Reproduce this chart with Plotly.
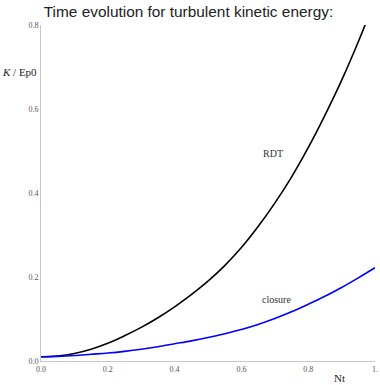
import plotly.graph_objects as go

# Time grid (Nt) and kinetic energy normalised by initial potential energy
nt = [0.0, 0.05, 0.1, 0.15, 0.2, 0.25, 0.3, 0.35, 0.4, 0.45, 0.5,
      0.55, 0.6, 0.65, 0.7, 0.75, 0.8, 0.85, 0.9, 0.95, 1.0]
k_rdt = [0.010, 0.012, 0.018, 0.028, 0.042, 0.060, 0.080, 0.103, 0.129, 0.158, 0.190,
         0.227, 0.270, 0.320, 0.376, 0.438, 0.508, 0.585, 0.668, 0.760, 0.860]
k_closure = [0.010, 0.011, 0.013, 0.016, 0.019, 0.023, 0.028, 0.034, 0.041, 0.048, 0.056,
             0.065, 0.075, 0.087, 0.101, 0.117, 0.135, 0.154, 0.175, 0.198, 0.222]

x_ticks = [0.0, 0.2, 0.4, 0.6, 0.8, 1.0]
x_tick_text = ["0.0", "0.2", "0.4", "0.6", "0.8", "1."]
y_ticks = [0.0, 0.2, 0.4, 0.6, 0.8]
y_tick_text = ["0.0", "0.2", "0.4", "0.6", "0.8"]

serif = "Liberation Serif, DejaVu Serif, serif"

fig = go.Figure()
fig.add_trace(go.Scatter(x=nt, y=k_rdt, mode="lines", line=dict(color="black", width=1.6, shape="spline"),
                         name="RDT", showlegend=False))
fig.add_trace(go.Scatter(x=nt, y=k_closure, mode="lines", line=dict(color="#0000ff", width=1.6, shape="spline"),
                         name="closure", showlegend=False))

axis_common = dict(showgrid=False, zeroline=False, showline=True, linecolor="#c8c8c8", linewidth=1,
                   ticks="", ticklabeloverflow="allow",
                   tickfont=dict(family=serif, size=8, color="#555555"))

fig.update_layout(
    width=380, height=385,
    margin=dict(l=41, r=2, t=25, b=24),
    plot_bgcolor="white", paper_bgcolor="white",
    title=dict(text="Time evolution for turbulent kinetic energy:", x=0.496, xanchor="center",
               y=0.985, yanchor="top",
               font=dict(family="Liberation Sans, Arial, sans-serif", size=15.4, color="#222222")),
    xaxis=dict(range=[0, 1.0], tickvals=x_ticks, ticktext=x_tick_text, **axis_common),
    yaxis=dict(range=[0, 0.8], tickvals=y_ticks, ticktext=y_tick_text, **axis_common),
    annotations=[
        dict(text="<i>K</i> / Ep0", xref="paper", yref="paper", x=-0.005, y=0.86, xanchor="right",
             yanchor="middle", showarrow=False, font=dict(family=serif, size=11, color="#222222")),
        dict(text="Nt", xref="paper", yref="paper", x=0.893, y=-0.071, xanchor="center", yanchor="bottom",
             showarrow=False, borderpad=0, font=dict(family=serif, size=11, color="#222222")),
        dict(text="RDT", x=0.695, y=0.495, showarrow=False,
             font=dict(family=serif, size=10, color="#333333")),
        dict(text="closure", x=0.705, y=0.147, showarrow=False,
             font=dict(family=serif, size=10, color="#333333")),
    ],
)

fig.write_html("out.html")
